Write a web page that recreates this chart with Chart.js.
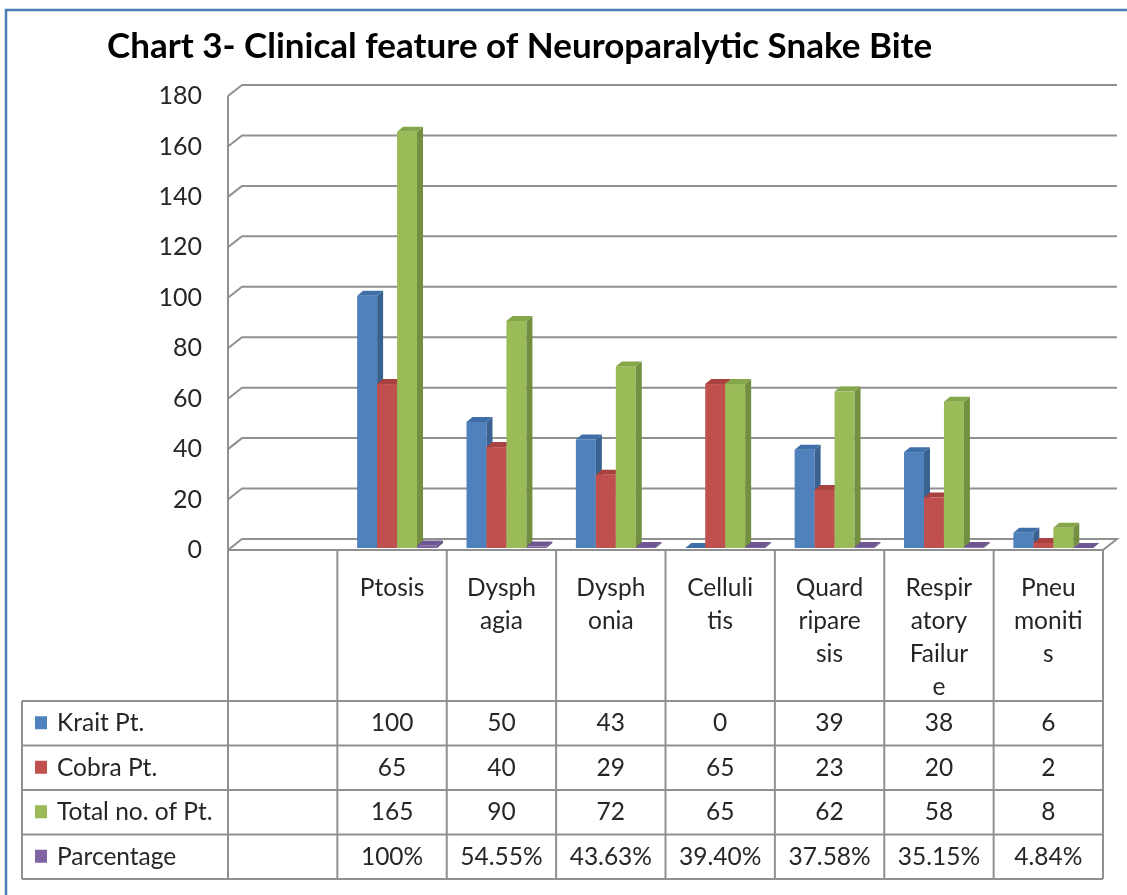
<!DOCTYPE html>
<html>
<head>
<meta charset="utf-8">
<script src="https://cdn.jsdelivr.net/npm/chart.js@4/dist/chart.umd.min.js"></script>
<style>
  html, body { margin: 0; padding: 0; background: #fff; }
  #wrap { position: relative; width: 1127px; height: 895px; }
</style>
</head>
<body>
<div id="wrap"><canvas id="myChart"></canvas></div>
<script>
const chartTitle = 'Chart 3- Clinical feature of Neuroparalytic Snake Bite';
// category labels, wrapped the way the table shows them
const categories = [
    [''],
    ['Ptosis'],
    ['Dysph', 'agia'],
    ['Dysph', 'onia'],
    ['Celluli', 'tis'],
    ['Quard', 'ripare', 'sis'],
    ['Respir', 'atory', 'Failur', 'e'],
    ['Pneu', 'moniti', 's']
];
const seriesNames = ['Krait Pt.', 'Cobra Pt.', 'Total no. of Pt.', 'Parcentage'];
const krait = [null, 100, 50, 43, 0, 39, 38, 6];
const cobra = [null, 65, 40, 29, 65, 23, 20, 2];
const total = [null, 165, 90, 72, 65, 62, 58, 8];
const parcentage = [null, 100, 54.55, 43.63, 39.40, 37.58, 35.15, 4.84];
const yMin = 0, yMax = 180, yStep = 20;

const colors = ['#4F81BD', '#C0504D', '#9BBB59', '#8064A2'];
const sideColors = ['#3A6291', '#963B39', '#72903F', '#5E4A7A'];
const topColors = ['#3F6FA8', '#A9423F', '#86A64A', '#6E5690'];

const FONT = 'Lato, "Open Sans", sans-serif';
const wall = { dx: 14, dy: 11 };     // back wall offset
const barDepth = { dx: 6, dy: 5 };   // bar side / top depth
const barShift = { dx: 5, dy: -2 };  // bars sit a bit behind the front edge
const gridColor = '#909090';
const textColor = '#262626';

function pctText(v) {
    if (v === null) return '';
    return v === 100 ? '100%' : v.toFixed(2) + '%';
}
function numText(v) {
    return v === null ? '' : String(v);
}

const tableRows = [
    { name: seriesNames[0], cells: krait.map(numText) },
    { name: seriesNames[1], cells: cobra.map(numText) },
    { name: seriesNames[2], cells: total.map(numText) },
    { name: seriesNames[3], cells: parcentage.map(pctText) }
];

function bar3d(ctx, x0, x1, yTop, yBase, i) {
    ctx.fillStyle = colors[i];
    ctx.fillRect(x0, yTop, x1 - x0, yBase - yTop);
    ctx.fillStyle = sideColors[i];
    ctx.beginPath();
    ctx.moveTo(x1, yTop);
    ctx.lineTo(x1 + barDepth.dx, yTop - barDepth.dy);
    ctx.lineTo(x1 + barDepth.dx, yBase - barDepth.dy);
    ctx.lineTo(x1, yBase);
    ctx.closePath();
    ctx.fill();
    ctx.fillStyle = topColors[i];
    ctx.beginPath();
    ctx.moveTo(x0, yTop);
    ctx.lineTo(x0 + barDepth.dx, yTop - barDepth.dy);
    ctx.lineTo(x1 + barDepth.dx, yTop - barDepth.dy);
    ctx.lineTo(x1, yTop);
    ctx.closePath();
    ctx.fill();
}

const threeD = {
    id: 'threeD',
    beforeDatasetsDraw(chart) {
        const ctx = chart.ctx;
        const { left, right, top, bottom } = chart.chartArea;
        const y = chart.scales.y;
        ctx.save();
        ctx.strokeStyle = gridColor;
        ctx.lineWidth = 2;
        y.ticks.forEach(t => {
            const py = y.getPixelForValue(t.value);
            ctx.beginPath();
            ctx.moveTo(left, py);
            ctx.lineTo(left + wall.dx, py - wall.dy);
            ctx.lineTo(right + wall.dx, py - wall.dy);
            if (t.value === yMin) ctx.lineTo(right, py);
            ctx.stroke();
        });
        ctx.beginPath();
        ctx.moveTo(left, y.getPixelForValue(yMax));
        ctx.lineTo(left, bottom);
        ctx.stroke();

        // bars, category by category so the side faces overlap right
        const metas = chart.data.datasets.map((d, i) => chart.getDatasetMeta(i));
        for (let c = 0; c < categories.length; c++) {
            metas.forEach((meta, i) => {
                const v = chart.data.datasets[i].data[c];
                if (v === null) return;
                const el = meta.data[c];
                const x0 = el.x - el.width / 2 + barShift.dx;
                const x1 = el.x + el.width / 2 + barShift.dx;
                bar3d(ctx, x0, x1, el.y + barShift.dy, el.base + barShift.dy, i);
            });
        }
        ctx.restore();
        return false;
    },
    afterDraw(chart) {
        const ctx = chart.ctx;
        const { left, right, bottom } = chart.chartArea;
        const x = chart.scales.x;
        const tableLeft = 22;
        const headBottom = bottom + 151;
        const rowH = 44.5;
        const tableBottom = headBottom + rowH * tableRows.length;
        ctx.save();

        // outer frame
        ctx.strokeStyle = '#4a7ebb';
        ctx.lineWidth = 2.5;
        ctx.strokeRect(6, 10, 1200, 1000);

        // title
        ctx.fillStyle = '#000';
        ctx.font = 'bold 35px ' + FONT;
        ctx.textAlign = 'left';
        ctx.textBaseline = 'alphabetic';
        ctx.fillText(chartTitle, 107, 58);

        // table grid
        ctx.strokeStyle = gridColor;
        ctx.lineWidth = 2;
        ctx.beginPath();
        ctx.moveTo(left, bottom);
        ctx.lineTo(right, bottom);
        for (let i = 0; i <= categories.length; i++) {
            const bx = x.getPixelForValue(i - 0.5);
            ctx.moveTo(bx, bottom);
            ctx.lineTo(bx, tableBottom);
        }
        ctx.moveTo(tableLeft, headBottom);
        ctx.lineTo(tableLeft, tableBottom);
        for (let r = 0; r <= tableRows.length; r++) {
            const ry = headBottom + r * rowH;
            ctx.moveTo(tableLeft, ry);
            ctx.lineTo(right, ry);
        }
        ctx.stroke();

        // category labels
        ctx.fillStyle = textColor;
        ctx.font = '24.5px ' + FONT;
        ctx.textAlign = 'center';
        ctx.textBaseline = 'middle';
        categories.forEach((lines, i) => {
            const cx = x.getPixelForValue(i);
            lines.forEach((s, k) => ctx.fillText(s, cx, bottom + 38 + k * 33));
        });

        // rows
        tableRows.forEach((row, r) => {
            const cy = headBottom + r * rowH + rowH / 2;
            ctx.fillStyle = colors[r];
            ctx.fillRect(35, cy - 7, 12, 13);
            ctx.fillStyle = textColor;
            ctx.textAlign = 'left';
            ctx.fillText(row.name, 57, cy);
            ctx.textAlign = 'center';
            row.cells.forEach((s, i) => ctx.fillText(s, x.getPixelForValue(i), cy));
        });
        ctx.restore();
    }
};

const ctx = document.getElementById('myChart').getContext('2d');
const myChart = new Chart(ctx, {
    type: 'bar',
    data: {
        labels: categories,
        datasets: [
            { label: seriesNames[0], data: krait, backgroundColor: colors[0] },
            { label: seriesNames[1], data: cobra, backgroundColor: colors[1] },
            { label: seriesNames[2], data: total, backgroundColor: colors[2] },
            { label: seriesNames[3], data: parcentage.map(v => v === null ? null : v / 100), backgroundColor: colors[3] }
        ]
    },
    options: {
        responsive: true,
        maintainAspectRatio: false,
        animation: false,
        layout: { padding: { left: 100, right: 24, top: 96, bottom: 345 } },
        datasets: { bar: { categoryPercentage: 0.73, barPercentage: 1 } },
        plugins: {
            legend: { display: false },
            tooltip: { enabled: false }
        },
        scales: {
            x: { display: false },
            y: {
                min: yMin,
                max: yMax,
                ticks: { stepSize: yStep, padding: 18, color: textColor, font: { family: FONT, size: 25 } },
                grid: { display: false },
                border: { display: false },
                afterFit(scale) { scale.width = 128; }
            }
        }
    },
    plugins: [threeD]
});
</script>
</body>
</html>
